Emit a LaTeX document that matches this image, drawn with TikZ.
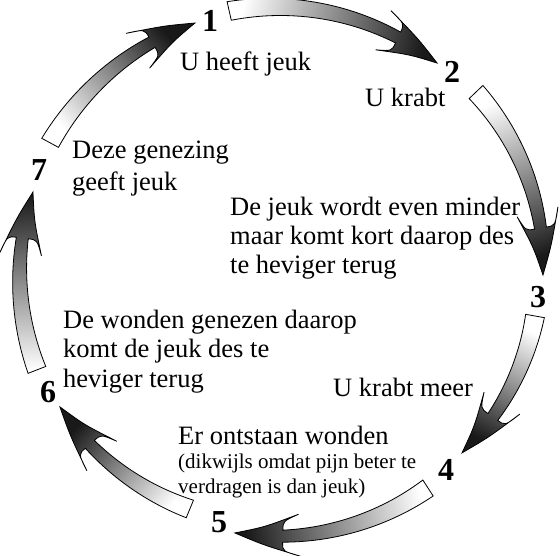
\documentclass[tikz,border=0pt]{standalone}
\usepackage{fontspec}
\setmainfont{Liberation Serif}
\newcommand{\cx}{288}
\newcommand{\cy}{272}
% radius and half-width along an arrow (angle #1)
\newcommand{\Rf}[1]{(\RA+(\RB-\RA)*((#1)-\AA)/(\AB-\AA))}
\newcommand{\Wf}[1]{(9.5-3.5*((#1)-\AA)/(\AN-\AA))}
\newcommand{\carrow}[4]{%
  \pgfmathsetmacro{\AA}{#1}%
  \pgfmathsetmacro{\AB}{#2}%
  \pgfmathsetmacro{\RA}{#3}%
  \pgfmathsetmacro{\RB}{#4}%
  \pgfmathsetmacro{\HL}{64/((#3+#4)/2)*180/pi}%
  \pgfmathsetmacro{\AH}{#2-\HL}%
  \pgfmathsetmacro{\AN}{#2-0.74*\HL}%
  \pgfmathsetmacro{\AM}{#2-0.45*\HL}%
  \pgfmathsetmacro{\RH}{\Rf{\AH}}%
  \pgfmathsetmacro{\RN}{\Rf{\AN}}%
  \pgfmathsetmacro{\RM}{\Rf{\AM}}%
  \pgfmathsetmacro{\SA}{-(#1+#2)/2}%
  \path[arrowbody, shading angle=\SA]
    plot[domain=\AA:\AN, samples=30, variable=\t]
      ({\cx+(\Rf{\t}+\Wf{\t})*cos(\t)},{\cy+(\Rf{\t}+\Wf{\t})*sin(\t)})
    .. controls ({\cx+(\RN+15)*cos(\AN)},{\cy+(\RN+15)*sin(\AN)})
    .. ({\cx+(\RH+21)*cos(\AH)},{\cy+(\RH+21)*sin(\AH)})
    .. controls ({\cx+(\RM+9)*cos(\AM)},{\cy+(\RM+9)*sin(\AM)})
    .. ({\cx+\RB*cos(\AB)},{\cy+\RB*sin(\AB)})
    .. controls ({\cx+(\RM-9)*cos(\AM)},{\cy+(\RM-9)*sin(\AM)})
    .. ({\cx+(\RH-21)*cos(\AH)},{\cy+(\RH-21)*sin(\AH)})
    .. controls ({\cx+(\RN-15)*cos(\AN)},{\cy+(\RN-15)*sin(\AN)})
    .. ({\cx+(\RN-\Wf{\AN})*cos(\AN)},{\cy+(\RN-\Wf{\AN})*sin(\AN)})
    -- plot[domain=\AN:\AA, samples=30, variable=\t]
      ({\cx+(\Rf{\t}-\Wf{\t})*cos(\t)},{\cy+(\Rf{\t}-\Wf{\t})*sin(\t)})
    -- cycle;
}
\tikzset{
  arrowbody/.style={draw=black, line width=0.8pt, line join=miter,
    top color=white, bottom color=black!90},
  lbl/.style={anchor=base west, inner sep=0pt, font=\fontsize{26.5}{30}\selectfont},
  small/.style={anchor=base west, inner sep=0pt, font=\fontsize{21}{25}\selectfont},
  num/.style={inner sep=0pt, font=\fontsize{32}{32}\selectfont\bfseries},
}
\begin{document}
\begin{tikzpicture}[x=1pt, y=-1pt]
\useasboundingbox (0,0) rectangle (560,555);
% arrows (angles measured clockwise from +x around the centre)
\carrow{-102.7}{-54.5}{267.6}{256.7}
\carrow{-43.75}{0.67}{260.3}{255}
\carrow{10.1}{46.1}{250.9}{251}
\carrow{57.05}{101.5}{257.4}{266.3}
\carrow{112.5}{149.4}{256.5}{265}
\carrow{158.7}{197.4}{269.5}{267.3}
\carrow{208.5}{249.5}{270.7}{265.8}
% numbers
\node[num] (n1) at (210,21) {1};
\node[num] (n2) at (452,72) {2};
\node[num] (n3) at (538,297) {3};
\node[num] (n4) at (446,470) {4};
\node[num] (n5) at (219,522) {5};
\node[num] (n6) at (48,392) {6};
\node[num] (n7) at (39,170) {7};
% texts
\node[lbl] (t1) at (180,70) {U heeft jeuk};
\node[lbl] (t2) at (365,106) {U krabt};
\node[lbl] (t3a) at (230,215) {De jeuk wordt even minder};
\node[lbl] (t3b) at (230,244) {maar komt kort daarop des};
\node[lbl] (t3c) at (230,273) {te heviger terug};
\node[lbl] (t4) at (333,396) {U krabt meer};
\node[lbl] (t5) at (178,444) {Er ontstaan wonden};
\node[small] (t5b) at (178,468) {(dikwijls omdat pijn beter te};
\node[small] (t5c) at (178,493) {verdragen is dan jeuk)};
\node[lbl] (t6a) at (63,328) {De wonden genezen daarop};
\node[lbl] (t6b) at (63,357) {komt de jeuk des te};
\node[lbl] (t6c) at (63,387) {heviger terug};
\node[lbl] (t7a) at (72,158) {Deze genezing};
\node[lbl] (t7b) at (72,190) {geeft jeuk};
\end{tikzpicture}
\end{document}
